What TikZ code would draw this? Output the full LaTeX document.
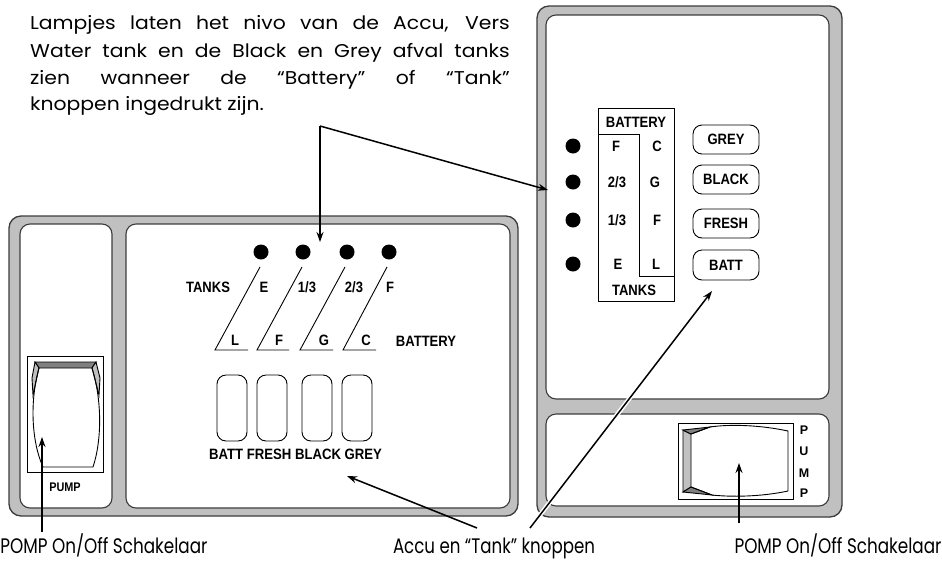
\documentclass[tikz,border=0pt]{standalone}
\usepackage{fontspec}
\usepackage{graphicx}
\setmainfont{Poppins}
\newfontfamily\labfont{Liberation Sans}
\usetikzlibrary{arrows.meta,calc}
\definecolor{framegrey}{RGB}{192,192,192}
\definecolor{edgecol}{RGB}{60,60,60}
\definecolor{midgrey}{RGB}{128,128,128}
\newcommand\sqz[1]{\scalebox{0.87}[1]{#1}}
\newcommand\fitw[2]{\resizebox{#1}{\height}{#2}}
\newcommand\noteline[1]{\scalebox{1.1}[1]{\makebox[436pt][s]{#1}}}
\begin{document}
\begin{tikzpicture}[x=1pt,y=-1pt,
  frame/.style={fill=framegrey, draw=edgecol, line width=1.3pt, rounded corners=12pt},
  cell/.style={fill=white, draw=edgecol, line width=1.1pt, rounded corners=10pt},
  lamp/.style={circle, fill=black, minimum size=15pt, inner sep=0pt},
  lbl/.style={font=\labfont\bfseries\fontsize{15}{15}\selectfont, inner sep=0pt},
  plbl/.style={font=\labfont\bfseries\fontsize{12.5}{12.5}\selectfont, inner sep=0pt},
  btn/.style={draw, rounded corners=9pt, line width=0.9pt, inner sep=0pt},
  thin/.style={line width=0.9pt},
  arr/.style={-{Stealth[length=10pt,width=7pt]}, line width=1.5pt},
  halo/.style={white, line width=4.5pt},
  note/.style={font=\fontsize{18.5}{18.5}\selectfont, inner sep=0pt, anchor=base west},
  caption/.style={font=\fontsize{21}{21}\selectfont, inner sep=0pt, anchor=base}
]
\useasboundingbox (0,0) rectangle (942,560);

% ---------- top note ----------
\node[note] (n1) at (30,29) {\noteline{Lampjes laten het nivo van de Accu, Vers}};
\node[note] (n2) at (30,57) {\noteline{Water tank en de Black en Grey afval tanks}};
\node[note] (n3) at (30,84) {\noteline{zien wanneer de “Battery” of “Tank”}};
\node[note] (n4) at (30,110) {\scalebox{1.1}[1]{knoppen ingedrukt zijn.}};

% ---------- left panel ----------
\draw[frame] (9,216) rectangle (518,516);
\draw[cell] (20,224) rectangle (112,508);
\draw[cell] (126,224) rectangle (510,508);

% lamps
\node[lamp] (la1) at (261,252) {};
\node[lamp] (la2) at (303,252) {};
\node[lamp] (la3) at (347,252) {};
\node[lamp] (la4) at (389,252) {};

% scale lines
\draw[thin] (260,267) -- (215,350) -- (248,350);
\draw[thin] (302,267) -- (257,350) -- (289,350);
\draw[thin] (345,267) -- (300,350) -- (333,350);
\draw[thin] (387,267) -- (343,350) -- (376,350);

\node[lbl] (tanksA) at (208,287) {\sqz{TANKS}};
\node[lbl] (tE) at (264,287) {\sqz{E}};
\node[lbl] (t13) at (307,287) {\sqz{1/3}};
\node[lbl] (t23) at (354,287) {\sqz{2/3}};
\node[lbl] (tF) at (390,287) {\sqz{F}};
\node[lbl] (bL) at (235,340) {\sqz{L}};
\node[lbl] (bF) at (279,340) {\sqz{F}};
\node[lbl] (bG) at (324,340) {\sqz{G}};
\node[lbl] (bC) at (366,340) {\sqz{C}};
\node[lbl] (batteryA) at (426,341) {\sqz{BATTERY}};

% buttons
\node[btn, minimum width=30pt, minimum height=66pt] (kb1) at (232,408) {};
\node[btn, minimum width=30pt, minimum height=66pt] (kb2) at (272,408) {};
\node[btn, minimum width=30pt, minimum height=66pt] (kb3) at (317,408) {};
\node[btn, minimum width=30pt, minimum height=66pt] (kb4) at (357,408) {};
\node[lbl] (kblab) at (295.5,454) {\fitw{173pt}{BATT FRESH BLACK GREY}};

% left rocker switch
\draw[thin] (27,356) rectangle (103,472);
\draw[thin, fill=midgrey] (35,362) -- (96,362) -- (92,368) -- (39,368) -- cycle;
\draw[thin, fill=framegrey] (35,362) -- (39,368) -- (33,395) -- (32,378) -- cycle;
\draw[thin, fill=framegrey] (96,362) -- (92,368) -- (99,395) -- (100,378) -- cycle;
\draw[thin] (39,368) .. controls (30,400) and (31,440) .. (43,467) -- (93,467)
  .. controls (102,440) and (102,400) .. (92,368);
\node[plbl] (pumpA) at (65,487) {\sqz{PUMP}};

% ---------- right panel ----------
\draw[frame] (537,6) rectangle (842,517);
\draw[cell] (546,15) rectangle (829,399);
\draw[cell] (546,414) rectangle (829,506);

\node[lamp] (lb1) at (573,146) {};
\node[lamp] (lb2) at (573,182) {};
\node[lamp] (lb3) at (573,220) {};
\node[lamp] (lb4) at (573,264) {};

\draw[thin] (598,108) rectangle (674,301);
\draw[thin] (598,134) -- (639,134) -- (639,276) -- (674,276);
\node[lbl] (batteryB) at (636,122) {\sqz{BATTERY}};
\node[lbl] (tanksB) at (634,290) {\sqz{TANKS}};
\node[lbl] (rF) at (616,146) {\sqz{F}};
\node[lbl] (r23) at (617,182) {\sqz{2/3}};
\node[lbl] (r13) at (617,220) {\sqz{1/3}};
\node[lbl] (rE) at (618,264) {\sqz{E}};
\node[lbl] (rC) at (657,146) {\sqz{C}};
\node[lbl] (rG) at (655,182) {\sqz{G}};
\node[lbl] (rF2) at (657,220) {\sqz{F}};
\node[lbl] (rL) at (656,264) {\sqz{L}};

\node[btn, minimum width=66pt, minimum height=29pt, lbl] (bgrey) at (726,139.5) {\sqz{GREY}};
\node[btn, minimum width=66pt, minimum height=29pt, lbl] (bblack) at (726,179.5) {\sqz{BLACK}};
\node[btn, minimum width=66pt, minimum height=29pt, lbl] (bfresh) at (726,223.5) {\sqz{FRESH}};
\node[btn, minimum width=66pt, minimum height=30pt, lbl] (bbatt) at (726,265) {\sqz{BATT}};

% right rocker switch
\draw[thin] (678,423) rectangle (793,499);
\draw[thin, fill=framegrey] (683,430) -- (691,434) -- (691,487) -- (683,492) -- cycle;
\draw[thin, fill=midgrey] (683,430) -- (710,427) -- (691,434) -- cycle;
\draw[thin, fill=midgrey] (683,492) -- (691,487) -- (712,495) -- cycle;
\draw[thin] (691,434) -- (710,427) .. controls (730,424) and (760,425) .. (788,431)
  -- (788,491) .. controls (760,497) and (730,497) .. (712,495) -- (691,487);
\node[plbl] (pP1) at (804,430) {P};
\node[plbl] (pU) at (804,451) {U};
\node[plbl] (pM) at (804,473) {M};
\node[plbl] (pP2) at (804,493) {P};

% ---------- arrows ----------
\coordinate (topsrc) at (320,126);
\coordinate (tipLamps) at (320,242);
\coordinate (tipRight) at (548,190);
\draw[arr] (topsrc) -- (tipLamps);
\draw[arr] (topsrc) -- (tipRight);

\coordinate (accuL) at (477,528);
\coordinate (accuR) at (530,528);
\coordinate (tipKnop) at (347,476);
\coordinate (tipBatt) at (712,291);
\draw[arr] (accuL) -- (tipKnop);
\draw[halo] (accuR) -- ($(accuR)!0.9!(tipBatt)$);
\draw[arr] (accuR) -- (tipBatt);

\coordinate (pumpLsrc) at (42,532);
\coordinate (pumpLtip) at (42,437);
\draw[arr] (pumpLsrc) -- (pumpLtip);
\coordinate (pumpRsrc) at (739,523);
\coordinate (pumpRtip) at (739,463);
\draw[arr] (pumpRsrc) -- (pumpRtip);

% ---------- captions ----------
\node[caption] (capL) at (104,553) {\fitw{207pt}{POMP On/Off Schakelaar}};
\node[caption] (capM) at (494,553) {\fitw{202pt}{Accu en “Tank” knoppen}};
\node[caption] (capR) at (838,553) {\fitw{207pt}{POMP On/Off Schakelaar}};
\end{tikzpicture}
\end{document}
